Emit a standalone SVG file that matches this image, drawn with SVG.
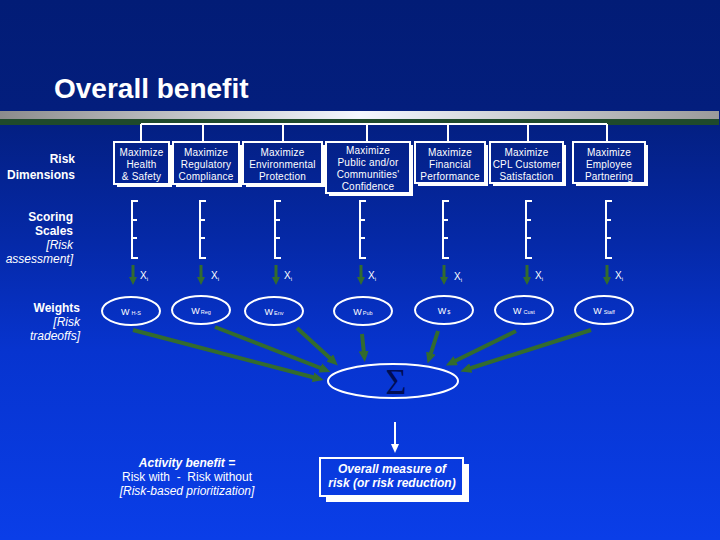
<svg xmlns="http://www.w3.org/2000/svg" width="720" height="540" viewBox="0 0 720 540">
<defs>
<linearGradient id="bg" gradientUnits="userSpaceOnUse" x1="0" y1="0" x2="0" y2="540">
<stop offset="0" stop-color="#021c76"/>
<stop offset="0.2" stop-color="#031e7d"/>
<stop offset="0.45" stop-color="#0529a8"/>
<stop offset="0.65" stop-color="#0734cf"/>
<stop offset="1" stop-color="#0a3ee8"/>
</linearGradient>
<linearGradient id="bar" x1="0" y1="0" x2="1" y2="0">
<stop offset="0" stop-color="#8c8c8c"/>
<stop offset="0.5" stop-color="#f4f8ff"/>
<stop offset="1" stop-color="#9a9a9a"/>
</linearGradient>
<marker id="gh" markerUnits="userSpaceOnUse" markerWidth="11" markerHeight="10" refX="3" refY="5" orient="auto">
<path d="M0,0 L11,5 L0,10 z" fill="#336b2e"/>
</marker>
<marker id="gs" markerUnits="userSpaceOnUse" markerWidth="8" markerHeight="8" refX="2" refY="4" orient="auto">
<path d="M0,0 L8,4 L0,8 z" fill="#336b2e"/>
</marker>
<marker id="wh" markerUnits="userSpaceOnUse" markerWidth="9" markerHeight="8" refX="2" refY="4" orient="auto">
<path d="M0,0 L9,4 L0,8 z" fill="#ffffff"/>
</marker>
<style>
.t{font-family:"Liberation Sans",Arial,sans-serif;fill:#fff}
.bx{font-size:10px;text-anchor:middle;letter-spacing:0.2px}
.lab{font-size:12px;font-weight:bold;text-anchor:end}
.labi{font-size:12px;font-style:italic;text-anchor:end}
.box{fill:url(#bg);stroke:#fff;stroke-width:2}
.sh{fill:#fff}
.sc{fill:none;stroke:#fff;stroke-width:2}
.ell{fill:none;stroke:#fff;stroke-width:2}
.xi{font-size:10px}
.w{font-size:9px;text-anchor:middle}
.ga{stroke:#336b2e;stroke-width:4;fill:none}
.gs{stroke:#336b2e;stroke-width:3;fill:none}
</style>
</defs>
<rect x="0" y="0" width="720" height="540" fill="url(#bg)"/>
<rect x="0" y="111" width="719" height="8" fill="url(#bar)"/>
<rect x="0" y="119" width="719" height="6" fill="#1f4a2c"/>
<text class="t" x="54" y="98" font-size="28" font-weight="bold">Overall benefit</text>

<g id="labels">
<text class="t lab" x="75" y="163">Risk</text>
<text class="t lab" x="75" y="179">Dimensions</text>
<text class="t lab" x="73" y="221">Scoring</text>
<text class="t lab" x="73" y="235">Scales</text>
<text class="t labi" x="73" y="249">[Risk</text>
<text class="t labi" x="73" y="263">assessment]</text>
<text class="t lab" x="80" y="312">Weights</text>
<text class="t labi" x="80" y="326">[Risk</text>
<text class="t labi" x="80" y="340">tradeoffs]</text>
</g>

<g id="connectors">
<path d="M141,124 H607 M141,124 V142 M203,124 V142 M283,124 V142 M367,124 V142 M448,124 V142 M528,124 V142 M607,124 V142" fill="none" stroke="#fff" stroke-width="2"/>
<line class="gs" x1="133" y1="265" x2="133" y2="279" marker-end="url(#gs)"/>
<line class="gs" x1="201" y1="265" x2="201" y2="279" marker-end="url(#gs)"/>
<line class="gs" x1="276" y1="265" x2="276" y2="279" marker-end="url(#gs)"/>
<line class="gs" x1="361" y1="265" x2="361" y2="279" marker-end="url(#gs)"/>
<line class="gs" x1="444" y1="265" x2="444" y2="279" marker-end="url(#gs)"/>
<line class="gs" x1="527" y1="265" x2="527" y2="279" marker-end="url(#gs)"/>
<line class="gs" x1="607" y1="265" x2="607" y2="279" marker-end="url(#gs)"/>
<line class="ga" x1="133" y1="330" x2="316" y2="378" marker-end="url(#gh)"/>
<line class="ga" x1="215" y1="327" x2="323" y2="369" marker-end="url(#gh)"/>
<line class="ga" x1="297" y1="328" x2="332" y2="360" marker-end="url(#gh)"/>
<line class="ga" x1="362" y1="334" x2="364" y2="354" marker-end="url(#gh)"/>
<line class="ga" x1="438" y1="331" x2="430" y2="356" marker-end="url(#gh)"/>
<line class="ga" x1="516" y1="331" x2="453" y2="362" marker-end="url(#gh)"/>
<line class="ga" x1="591" y1="330" x2="468" y2="369" marker-end="url(#gh)"/>
<line x1="395" y1="422" x2="395" y2="446" stroke="#fff" stroke-width="2" marker-end="url(#wh)"/>
</g>

<g id="box-hs">
<rect class="sh" x="117" y="145" width="55" height="42"/>
<rect class="box" x="114" y="142" width="55" height="42"/>
<text class="t bx" x="141.5" y="155.5">Maximize<tspan x="141.5" dy="12">Health</tspan><tspan x="141.5" dy="12">&amp; Safety</tspan></text>
</g>
<g id="box-reg">
<rect class="sh" x="176" y="145" width="66" height="42"/>
<rect class="box" x="173" y="142" width="66" height="42"/>
<text class="t bx" x="206" y="155.5">Maximize<tspan x="206" dy="12">Regulatory</tspan><tspan x="206" dy="12">Compliance</tspan></text>
</g>
<g id="box-env">
<rect class="sh" x="246" y="145" width="79" height="42"/>
<rect class="box" x="243" y="142" width="79" height="42"/>
<text class="t bx" x="282.5" y="155.5">Maximize<tspan x="282.5" dy="12">Environmental</tspan><tspan x="282.5" dy="12">Protection</tspan></text>
</g>
<g id="box-pub">
<rect class="sh" x="329" y="145" width="84" height="51"/>
<rect class="box" x="326" y="142" width="84" height="51"/>
<text class="t bx" x="368" y="154">Maximize<tspan x="368" dy="12">Public and/or</tspan><tspan x="368" dy="12">Communities'</tspan><tspan x="368" dy="12">Confidence</tspan></text>
</g>
<g id="box-fin">
<rect class="sh" x="418" y="145" width="70" height="41"/>
<rect class="box" x="415" y="142" width="70" height="41"/>
<text class="t bx" x="450" y="155.5">Maximize<tspan x="450" dy="12">Financial</tspan><tspan x="450" dy="12">Performance</tspan></text>
</g>
<g id="box-cust">
<rect class="sh" x="493" y="145" width="73" height="41"/>
<rect class="box" x="490" y="142" width="73" height="41"/>
<text class="t bx" x="526.5" y="155.5">Maximize<tspan x="526.5" dy="12">CPL Customer</tspan><tspan x="526.5" dy="12">Satisfaction</tspan></text>
</g>
<g id="box-emp">
<rect class="sh" x="576" y="145" width="72" height="41"/>
<rect class="box" x="573" y="142" width="72" height="41"/>
<text class="t bx" x="609" y="155.5">Maximize<tspan x="609" dy="12">Employee</tspan><tspan x="609" dy="12">Partnering</tspan></text>
</g>

<g id="scales">
<path class="sc" d="M138,201 H132 V258 H138 M132,220 H137 M132,238 H137"/>
<path class="sc" d="M206,201 H200 V258 H206 M200,220 H205 M200,238 H205"/>
<path class="sc" d="M281,201 H275 V258 H281 M275,220 H280 M275,238 H280"/>
<path class="sc" d="M366,201 H360 V258 H366 M360,220 H365 M360,238 H365"/>
<path class="sc" d="M449,201 H443 V258 H449 M443,220 H448 M443,238 H448"/>
<path class="sc" d="M532,201 H526 V258 H532 M526,220 H531 M526,238 H531"/>
<path class="sc" d="M612,201 H606 V258 H612 M606,220 H611 M606,238 H611"/>
<text class="t xi" x="140" y="279">X<tspan font-size="6" dy="2">i</tspan></text>
<text class="t xi" x="211" y="279">X<tspan font-size="6" dy="2">i</tspan></text>
<text class="t xi" x="284" y="279">X<tspan font-size="6" dy="2">i</tspan></text>
<text class="t xi" x="368" y="279">X<tspan font-size="6" dy="2">i</tspan></text>
<text class="t xi" x="454" y="280">X<tspan font-size="6" dy="2">i</tspan></text>
<text class="t xi" x="535" y="279">X<tspan font-size="6" dy="2">i</tspan></text>
<text class="t xi" x="615" y="279">X<tspan font-size="6" dy="2">i</tspan></text>
</g>

<g id="w-hs"><ellipse class="ell" cx="131" cy="311" rx="29" ry="14"/><text class="t w" x="131" y="315">W<tspan font-size="5.5" dx="2">H-S</tspan></text></g>
<g id="w-reg"><ellipse class="ell" cx="201" cy="310" rx="29" ry="14"/><text class="t w" x="201" y="314">W<tspan font-size="5.5" dx="1">Reg</tspan></text></g>
<g id="w-env"><ellipse class="ell" cx="274" cy="311" rx="29" ry="14"/><text class="t w" x="274" y="315">W<tspan font-size="5.5" dx="1">Env</tspan></text></g>
<g id="w-pub"><ellipse class="ell" cx="363" cy="311" rx="29" ry="14"/><text class="t w" x="363" y="315">W<tspan font-size="5.5" dx="1">Pub</tspan></text></g>
<g id="w-fin"><ellipse class="ell" cx="444" cy="310" rx="29" ry="14"/><text class="t w" x="444" y="314">W<tspan font-size="5.5" dx="1">$</tspan></text></g>
<g id="w-cust"><ellipse class="ell" cx="524" cy="310" rx="29" ry="14"/><text class="t w" x="524" y="314">W<tspan font-size="5.5" dx="2">Cust</tspan></text></g>
<g id="w-staff"><ellipse class="ell" cx="604" cy="310" rx="29" ry="14"/><text class="t w" x="604" y="314">W<tspan font-size="5.5" dx="2">Staff</tspan></text></g>

<g id="sum">
<ellipse class="ell" cx="393" cy="381" rx="65" ry="17"/>
<text x="396" y="394" font-family="'Liberation Serif','Times New Roman',serif" font-size="36" text-anchor="middle" fill="#000c55">Σ</text>
</g>

<g id="activity">
<text class="t" x="187" y="467" font-size="12" font-weight="bold" font-style="italic" text-anchor="middle">Activity benefit =</text>
<text class="t" x="187" y="481" font-size="12" text-anchor="middle" xml:space="preserve">Risk with  -  Risk without</text>
<text class="t" x="187" y="495" font-size="12" font-style="italic" text-anchor="middle">[Risk-based prioritization]</text>
</g>

<g id="overall">
<rect class="sh" x="326" y="464" width="143" height="38"/>
<rect class="box" x="320" y="458" width="143" height="38"/>
<text class="t" x="392" y="473" font-size="12" font-weight="bold" font-style="italic" text-anchor="middle">Overall measure of</text>
<text class="t" x="392" y="487" font-size="12" font-weight="bold" font-style="italic" text-anchor="middle">risk (or risk reduction)</text>
</g>
</svg>
